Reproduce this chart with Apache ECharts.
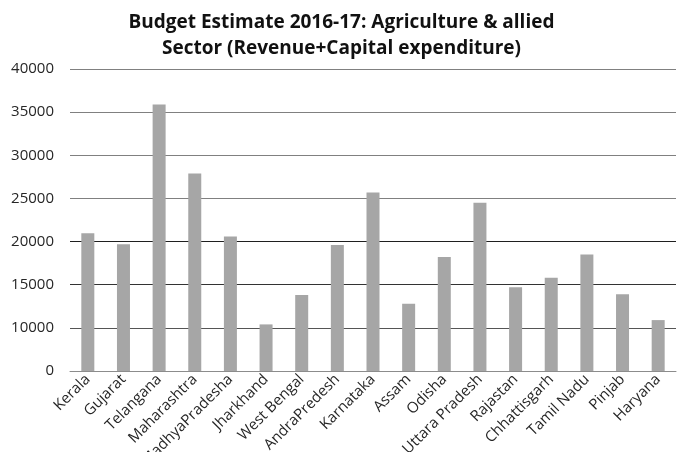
<!DOCTYPE html>
<html>
<head>
<meta charset="utf-8">
<script src="https://cdn.jsdelivr.net/npm/echarts@6/dist/echarts.min.js"></script>
<style>
  html, body { margin: 0; padding: 0; background: #fff; }
  #chart { width: 683px; height: 452px; }
</style>
</head>
<body>
<div id="chart"></div>
<script>
// States and their agriculture & allied sector budget (Revenue + Capital), BE 2016-17
const states = [
  'Kerala', 'Gujarat', 'Telangana', 'Maharashtra', 'MadhyaPradesha', 'Jharkhand',
  'West Bengal', 'AndraPredesh', 'Karnataka', 'Assam', 'Odisha', 'Uttara Pradesh',
  'Rajastan', 'Chhattisgarh', 'Tamil Nadu', 'Pinjab', 'Haryana'
];
const budget = [
  20950, 19700, 35900, 27900, 20600, 10400,
  13800, 19600, 25700, 12800, 18200, 24500,
  14700, 15800, 18500, 13900, 10900
];
// Value axis: the lowest gridline carries the label "0"
const axisMin = 5000;
const axisMax = 40000;
const axisStep = 5000;

const chart = echarts.init(document.getElementById('chart'), null, { renderer: 'canvas' });
const font = "'Open Sans', 'Noto Sans', sans-serif";

chart.setOption({
  backgroundColor: '#ffffff',
  animation: false,
  title: {
    text: 'Budget Estimate 2016-17: Agriculture & allied\nSector (Revenue+Capital expenditure)',
    left: 'center',
    top: 5,
    textStyle: {
      fontFamily: font,
      fontWeight: 'bold',
      fontSize: 19,
      lineHeight: 26,
      color: '#111111'
    }
  },
  grid: {
    left: 70, right: 7, top: 69, bottom: 81,
    containLabel: false,
    outerBoundsMode: 'none'
  },
  xAxis: {
    type: 'category',
    data: states,
    axisLine: { show: true, lineStyle: { color: '#8c8c8c', width: 1 } },
    axisTick: { show: false },
    axisLabel: {
      rotate: 45,
      interval: 0,
      margin: 6,
      fontFamily: font,
      fontSize: 15,
      color: '#262626'
    }
  },
  yAxis: {
    type: 'value',
    min: axisMin,
    max: axisMax,
    interval: axisStep,
    axisLine: { show: false },
    axisTick: { show: false },
    axisLabel: {
      margin: 16,
      fontFamily: font,
      fontSize: 15,
      color: '#262626',
      formatter: v => (v === axisMin ? '0' : String(v))
    },
    splitLine: {
      show: true,
      lineStyle: {
        width: 1,
        color: ['#8c8c8c', '#555555', '#333333', '#1f1f1f', '#808080', '#808080', '#808080', '#808080']
      }
    }
  },
  series: [{
    type: 'bar',
    data: budget,
    barWidth: 13,
    itemStyle: { color: '#a6a6a6' }
  }]
});
</script>
</body>
</html>
